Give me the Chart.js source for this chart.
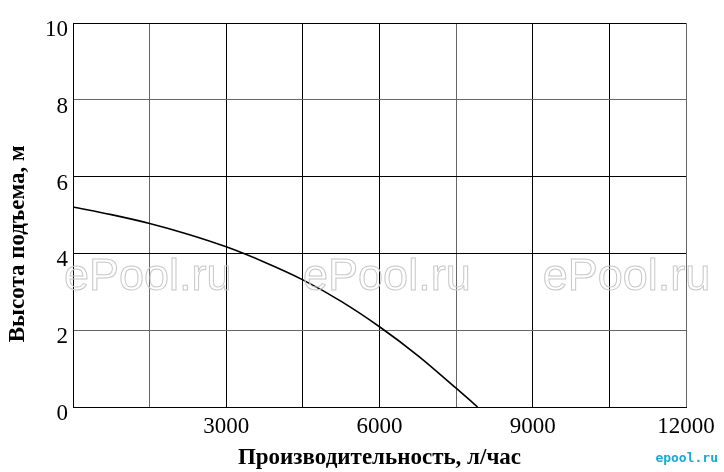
<!DOCTYPE html>
<html>
<head>
<meta charset="utf-8">
<script src="https://cdn.jsdelivr.net/npm/chart.js@4/dist/chart.umd.min.js"></script>
<style>
  html, body { margin: 0; padding: 0; background: #fff; }
  #wrap { width: 724px; height: 472px; position: relative; }
</style>
</head>
<body>
<div id="wrap"><canvas id="c" width="724" height="472"></canvas></div>
<script>
// Flow rate (л/час) and head (м)
const flowValues = [0, 750, 1500, 2250, 3000, 3750, 4500, 5250, 6000, 6750, 7500, 7920];
const headValues = [5.21, 5.01, 4.78, 4.50, 4.17, 3.77, 3.31, 2.75, 2.09, 1.34, 0.49, 0];
const xTickLabels = [3000, 6000, 9000, 12000];
const yTickLabels = [0, 2, 4, 6, 8, 10];
const xTitle = 'Производительность, л/час';
const yTitle = 'Высота подъема, м';
const watermarkText = 'ePool.ru';
const logoText = 'epool.ru';

const SERIF = "'Liberation Serif', 'Times New Roman', serif";

const points = flowValues.map((x, i) => ({ x: x, y: headValues[i] }));

const overlay = {
  id: 'overlay',
  afterDatasetsDraw(chart) {
    const ctx = chart.ctx;
    const area = chart.chartArea;
    const ys = chart.scales.y;
    ctx.save();
    // watermarks (outlined text)
    ctx.font = "45px 'Liberation Sans', Arial, sans-serif";
    ctx.textAlign = 'center';
    ctx.textBaseline = 'alphabetic';
    ctx.strokeStyle = '#c8c8c8';
    ctx.lineWidth = 1;
    const wy = ys.getPixelForValue(3.05);
    [0.122, 0.512, 0.903].forEach(f => {
      ctx.strokeText(watermarkText, area.left + f * (area.right - area.left), wy);
    });
    // y-axis title
    ctx.translate(18, ys.getPixelForValue(4.25));
    ctx.rotate(-Math.PI / 2);
    ctx.font = "bold 23px " + SERIF;
    ctx.fillStyle = '#000';
    ctx.textAlign = 'center';
    ctx.textBaseline = 'middle';
    ctx.fillText(yTitle, 0, 0);
    ctx.restore();
    // logo
    ctx.save();
    ctx.font = "bold 13px 'DejaVu Sans Mono', monospace";
    ctx.fillStyle = '#1ba8d6';
    ctx.textAlign = 'right';
    ctx.textBaseline = 'middle';
    ctx.fillText(logoText, 718, 459);
    ctx.restore();
  }
};

const grayX = [1500, 7500, 12000];
const grayY = [2, 8];

new Chart(document.getElementById('c'), {
  type: 'scatter',
  data: {
    datasets: [{
      data: points,
      showLine: true,
      borderColor: '#000',
      borderWidth: 1.6,
      pointRadius: 0,
      cubicInterpolationMode: 'monotone',
      fill: false
    }]
  },
  options: {
    responsive: false,
    animation: false,
    events: [],
    layout: { padding: { top: 23, right: 38, left: 0, bottom: 0 } },
    plugins: { legend: { display: false }, tooltip: { enabled: false } },
    scales: {
      x: {
        type: 'linear',
        min: 0, max: 12000,
        afterFit(scale) { scale.height = 65; },
        border: { display: true, color: '#000', width: 1 },
        grid: {
          drawTicks: false,
          color: ctx => grayX.includes(ctx.tick && ctx.tick.value) ? '#666' : '#000',
          lineWidth: 1
        },
        ticks: {
          stepSize: 1500,
          padding: 6,
          color: '#000',
          font: { family: SERIF, size: 23 },
          maxRotation: 0,
          autoSkip: false,
          callback: v => xTickLabels.includes(v) ? String(v) : ''
        },
        title: {
          display: true,
          text: xTitle,
          color: '#000',
          font: { family: SERIF, size: 23, weight: 'bold' },
          padding: { top: 2, bottom: 0 }
        }
      },
      y: {
        type: 'linear',
        min: 0, max: 10,
        afterFit(scale) { scale.width = 73; },
        border: { display: true, color: '#000', width: 1 },
        grid: {
          drawTicks: false,
          color: ctx => grayY.includes(ctx.tick && ctx.tick.value) ? '#666' : '#000',
          lineWidth: 1
        },
        ticks: {
          stepSize: 2,
          padding: 5,
          labelOffset: 7,
          color: '#000',
          font: { family: SERIF, size: 23 },
          callback: v => yTickLabels.includes(v) ? String(v) : ''
        }
      }
    }
  },
  plugins: [overlay]
});
</script>
</body>
</html>
